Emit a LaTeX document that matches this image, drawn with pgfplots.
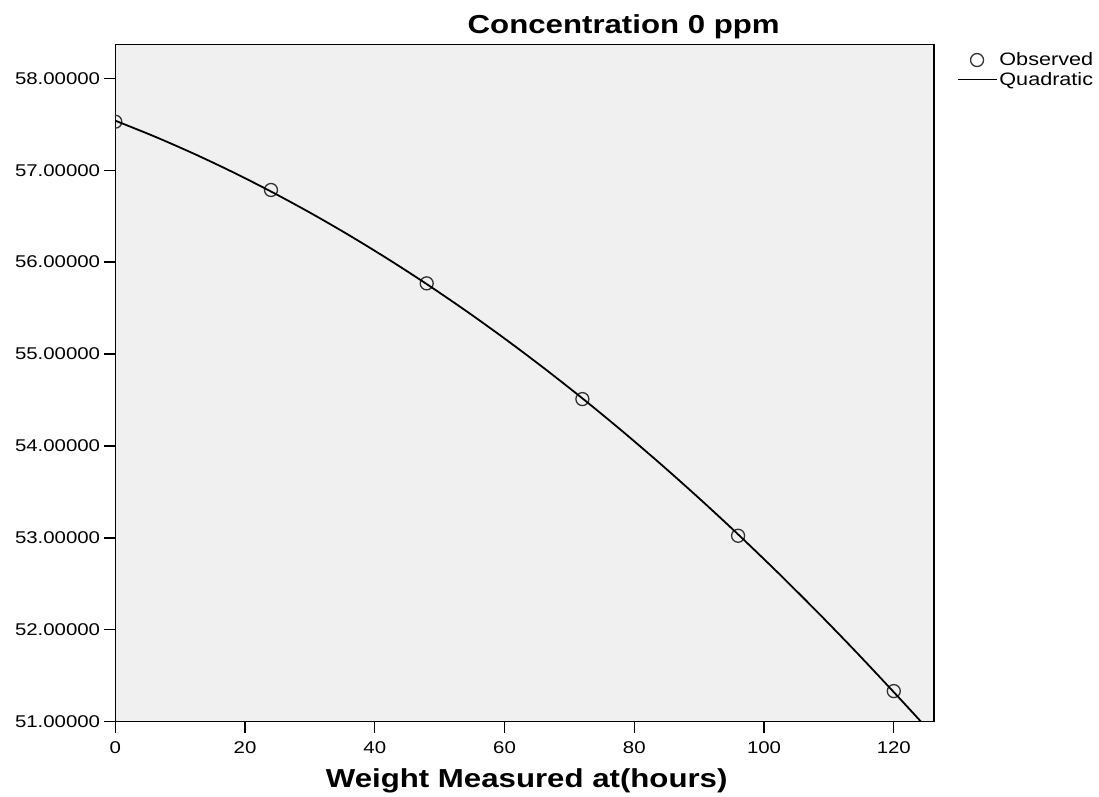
\documentclass[border=0pt]{standalone}
\usepackage{fontspec}
\setmainfont{Liberation Sans}[FakeStretch=1.2]
\usepackage{pgfplots}
\pgfplotsset{compat=1.18}
\definecolor{plotbg}{RGB}{240,240,240}
\definecolor{markgray}{RGB}{50,50,50}

% observed weights (hours, weight)
\pgfplotstableread{
x    y
0    57.528
24   56.785
48   55.769
72   54.510
96   53.023
120  51.333
}\observed

% quadratic fit
\pgfplotstableread{
x      y
0      57.539
6      57.3685
12     57.1833
18     56.9832
24     56.7684
30     56.5388
36     56.2945
42     56.0353
48     55.7614
54     55.4727
60     55.1692
66     54.8510
72     54.5180
78     54.1702
84     53.8076
90     53.4303
96     53.0382
102    52.6313
108    52.2096
114    51.7732
120    51.3220
124.2  51.0000
}\quadfit

\begin{document}
\begin{tikzpicture}
\useasboundingbox (-115.3pt,-74.3pt) rectangle (983.7pt,721.7pt);
\begin{axis}[
  scale only axis, width=818.7pt, height=677.4pt,
  xmin=0, xmax=126.2, ymin=51, ymax=58.37,
  xtick={0,20,...,120}, ytick={51,52,...,58},
  tick align=outside, xtick pos=bottom, ytick pos=left,
  major tick length=11pt,
  axis background/.style={fill=plotbg},
  axis line style={line width=1.4pt, black},
  every tick/.style={black, line width=1.3pt},
  /pgf/number format/assume math mode=true,
  tick label style={font=\fontsize{17}{20}\selectfont},
  yticklabel style={/pgf/number format/fixed, /pgf/number format/fixed zerofill,
    /pgf/number format/precision=5, anchor=east, inner sep=0pt, xshift=-4pt},
  xticklabel style={anchor=base, inner sep=0pt, yshift=-21pt},
  title={Concentration 0 ppm},
  title style={font=\fontsize{26}{30}\selectfont\bfseries,
    at={(axis description cs:0.621,1)}, anchor=base, yshift=5pt},
  xlabel={Weight Measured at(hours)},
  xlabel style={font=\fontsize{26}{30}\selectfont\bfseries,
    at={(axis description cs:0.5025,0)}, anchor=base, yshift=-66pt},
  clip marker paths=true,
  legend image code/.code={\draw[mark repeat=2,mark phase=2,#1]
    plot coordinates {(0pt,0pt) (19pt,0pt) (39pt,0pt)};},
  legend style={at={(axis description cs:1.028,0.99)}, anchor=north west,
    draw=none, fill=none, inner sep=0pt, row sep=2pt,
    font=\fontsize{18}{19}\selectfont,
    nodes={inner sep=1.5pt}},
  legend cell align=left,
]
\addplot[only marks, mark=o, mark size=6.5pt,
  mark options={draw=markgray, line width=1.3pt}] table {\observed};
\addlegendentry{Observed}
\addplot[black, line width=1.8pt, smooth, mark=none] table {\quadfit};
\addlegendentry{Quadratic}
\end{axis}
\end{tikzpicture}
\end{document}
